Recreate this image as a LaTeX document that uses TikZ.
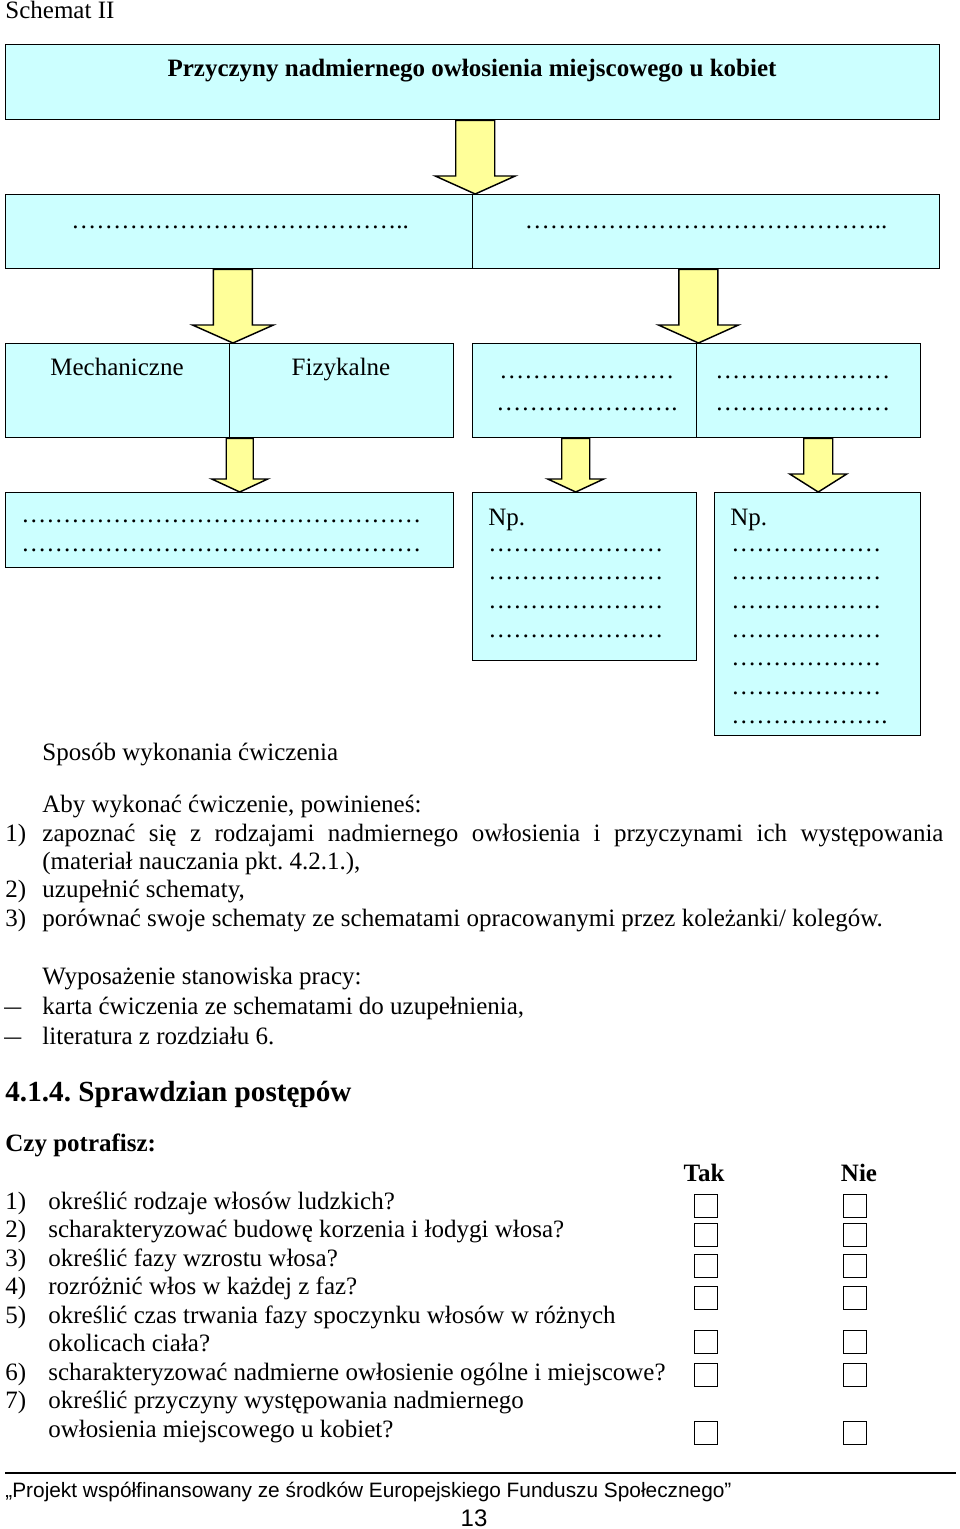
\documentclass[tikz,border=0pt]{standalone}
\usepackage{fontspec}
\setmainfont{Liberation Serif}
\newfontfamily\footfont{Liberation Sans}
\usepackage{tikz}
\usetikzlibrary{calc, positioning}
\definecolor{boxcyan}{RGB}{204,255,255}
\definecolor{arrowyellow}{RGB}{255,255,153}
\frenchspacing
\newcommand{\px}[1]{#1*0.48pt}
\newcommand{\blockarrow}[5]{% top, tip, shaft half width, head half width, head length
    \draw[barrow] ($(#1)+(-#3,0)$) -- ($(#2)+(-#3,-#5)$) -- ($(#2)+(-#4,-#5)$) -- (#2)
        -- ($(#2)+(#4,-#5)$) -- ($(#2)+(#3,-#5)$) -- ($(#1)+(#3,0)$) -- cycle;
}
\tikzset{
    cbox/.style={draw, line width=0.7pt, fill=boxcyan, anchor=north west, inner sep=0pt},
    barrow/.style={draw, line width=0.7pt, fill=arrowyellow, line join=miter},
    txt/.style={anchor=base west, inner sep=0pt},
    ctxt/.style={anchor=base, inner sep=0pt},
    chk/.style={draw, line width=0.8pt, minimum size=\px{23}, inner sep=0pt},
}

\begin{document}
\begin{tikzpicture}[x=0.48pt, y=-0.48pt, font=\fontsize{12pt}{13.8pt}\selectfont]
    \useasboundingbox (0,0) rectangle (960,1529);
    \node[txt] (schemat) at (5,19) {Schemat II};

    % Boxes of the scheme
    \node[cbox, minimum width=\px{934}, minimum height=\px{75}] (title) at (5,44) {};
    \node[ctxt, font=\fontsize{12pt}{13.8pt}\selectfont\bfseries] (titletxt) at (472,77)
        {Przyczyny nadmiernego owłosienia miejscowego u kobiet};

    \node[cbox, minimum width=\px{467}, minimum height=\px{74}] (l2a) at (5,194) {};
    \node[cbox, minimum width=\px{467}, minimum height=\px{74}] (l2b) at (472,194) {};
    \node[ctxt] at (240,229) {…………………………………..};
    \node[ctxt] at (706,229) {……………………………………..};

    \node[cbox, minimum width=\px{224}, minimum height=\px{94}] (mech) at (5,343) {};
    \node[cbox, minimum width=\px{224}, minimum height=\px{94}] (fiz) at (229,343) {};
    \node[cbox, minimum width=\px{224}, minimum height=\px{94}] (l3c) at (472,343) {};
    \node[cbox, minimum width=\px{224}, minimum height=\px{94}] (l3d) at (696,343) {};
    \node[ctxt] at (117,375) {Mechaniczne};
    \node[ctxt] at (341,375) {Fizykalne};
    \node[txt] at (499,378) {…………………};
    \node[txt] at (496,410) {………………….};
    \node[txt] at (715,378) {…………………};
    \node[txt] at (715,410) {…………………};

    \node[cbox, minimum width=\px{448}, minimum height=\px{75}] (l4a) at (5,492) {};
    \node[cbox, minimum width=\px{224}, minimum height=\px{168}] (l4b) at (472,492) {};
    \node[cbox, minimum width=\px{206}, minimum height=\px{243}] (l4c) at (714,492) {};
    \node[txt] at (21,522) {…………………………………………};
    \node[txt] at (21,551) {…………………………………………};
    \node[txt] at (488,525) {Np.};
    \node[txt] at (488,551) {…………………};
    \node[txt] at (488,579) {…………………};
    \node[txt] at (488,608) {…………………};
    \node[txt] at (488,637) {…………………};
    \node[txt] at (730,525) {Np.};
    \node[txt] at (731,551) {………………};
    \node[txt] at (731,579) {………………};
    \node[txt] at (731,608) {………………};
    \node[txt] at (731,637) {………………};
    \node[txt] at (731,665) {………………};
    \node[txt] at (731,694) {………………};
    \node[txt] at (731,723) {……………….};

    % Block arrows
    \coordinate (a1top) at ($(title.south)+(2.5,0)$);
    \coordinate (a1tip) at (a1top |- l2a.north);
    \blockarrow{a1top}{a1tip}{19.5}{40}{18}
    \coordinate (a2ltop) at ($(mech.north east |- l2a.south)+(2.5,0)$);
    \coordinate (a2ltip) at (a2ltop |- mech.north);
    \blockarrow{a2ltop}{a2ltip}{19.5}{40.5}{18}
    \coordinate (a2rtop) at ($(l3c.north east |- l2b.south)+(1,0)$);
    \coordinate (a2rtip) at (a2rtop |- l3c.north);
    \blockarrow{a2rtop}{a2rtip}{19.5}{40}{18}
    \coordinate (a3ltop) at ($(l4a.north |- fiz.south)+(10,0)$);
    \coordinate (a3ltip) at (a3ltop |- l4a.north);
    \blockarrow{a3ltop}{a3ltip}{13.5}{28}{13}
    \coordinate (a3mtop) at ($(l4b.north |- l3c.south)+(-9,0)$);
    \coordinate (a3mtip) at (a3mtop |- l4b.north);
    \blockarrow{a3mtop}{a3mtip}{14}{28}{13}
    \coordinate (a3rtop) at ($(l4c.north |- l3d.south)+(0.5,0)$);
    \coordinate (a3rtip) at (a3rtop |- l4c.north);
    \blockarrow{a3rtop}{a3rtip}{14.5}{28.5}{18}

    % Exercise text
    \node[txt] at (42,760) {Sposób wykonania ćwiczenia};
    \node[txt] at (42,812) {Aby wykonać ćwiczenie, powinieneś:};
    \node[txt] at (5,841) {1)};
    \node[txt] at (42,841) {\makebox[432.5pt][s]{zapoznać się z rodzajami nadmiernego owłosienia i przyczynami ich występowania}};
    \node[txt] at (42,869) {(materiał nauczania pkt. 4.2.1.),};
    \node[txt] at (5,897) {2)};
    \node[txt] at (42,897) {uzupełnić schematy,};
    \node[txt] at (5,926) {3)};
    \node[txt] at (42,926) {porównać swoje schematy ze schematami opracowanymi przez koleżanki/ kolegów.};
    \node[txt] at (42,984) {Wyposażenie stanowiska pracy:};
    \node[txt] at (4,1014) {\scalebox{1.35}[1]{–}};
    \node[txt] at (42,1014) {karta ćwiczenia ze schematami do uzupełnienia,};
    \node[txt] at (4,1044) {\scalebox{1.35}[1]{–}};
    \node[txt] at (42,1044) {literatura z rozdziału 6.};

    % Progress check
    \node[txt, font=\fontsize{14pt}{16pt}\selectfont\bfseries] at (5,1101) {4.1.4. Sprawdzian postępów};
    \node[txt, font=\fontsize{12pt}{13.8pt}\selectfont\bfseries] at (5,1151) {Czy potrafisz:};
    \node[ctxt, font=\fontsize{12pt}{13.8pt}\selectfont\bfseries] (tak) at (704,1181) {Tak};
    \node[ctxt, font=\fontsize{12pt}{13.8pt}\selectfont\bfseries] (nie) at (859,1181) {Nie};
    \node[txt] at (5,1209) {1)};
    \node[txt] at (48,1209) {określić rodzaje włosów ludzkich?};
    \node[txt] at (5,1237) {2)};
    \node[txt] at (48,1237) {scharakteryzować budowę korzenia i łodygi włosa?};
    \node[txt] at (5,1266) {3)};
    \node[txt] at (48,1266) {określić fazy wzrostu włosa?};
    \node[txt] at (5,1294) {4)};
    \node[txt] at (48,1294) {rozróżnić włos w każdej z faz?};
    \node[txt] at (5,1323) {5)};
    \node[txt] at (48,1323) {określić czas trwania fazy spoczynku włosów w różnych};
    \node[txt] at (48,1351) {okolicach ciała?};
    \node[txt] at (5,1380) {6)};
    \node[txt] at (48,1380) {scharakteryzować nadmierne owłosienie ogólne i miejscowe?};
    \node[txt] at (5,1408) {7)};
    \node[txt] at (48,1408) {określić przyczyny występowania nadmiernego};
    \node[txt] at (48,1437) {owłosienia miejscowego u kobiet?};
    \foreach \i/\y in {1/1206, 2/1235, 3/1266, 4/1298, 5/1342, 6/1375, 7/1433} {
        \node[chk] (t\i) at (706,\y) {};
        \node[chk] (n\i) at (855,\y) {};
    }

    % Footer
    \draw[line width=0.8pt] (5,1473) -- (956,1473);
    \node[txt, font=\footfont\fontsize{10pt}{12pt}\selectfont] (foot) at (5,1497)
        {„Projekt współfinansowany ze środków Europejskiego Funduszu Społecznego”};
    \node[anchor=center, inner sep=0pt, font=\footfont\fontsize{11.5pt}{13pt}\selectfont] (page) at (474,1518) {13};
\end{tikzpicture}
\end{document}
